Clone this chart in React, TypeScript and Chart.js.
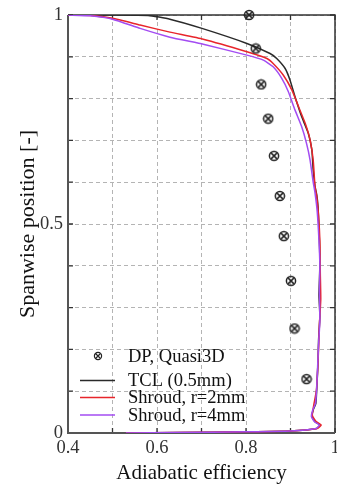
import React, { useEffect, useRef } from "react";
import { Chart, registerables } from "chart.js";

Chart.register(...registerables);

// DP, Quasi3D markers
const dpEff = [0.807, 0.822, 0.834, 0.85, 0.863, 0.876, 0.885, 0.901, 0.909, 0.936];
const dpSpan = [1.0, 0.92, 0.834, 0.752, 0.663, 0.567, 0.471, 0.364, 0.25, 0.129];

// TCL (0.5mm)
const tclEff = [0.4, 0.5, 0.58, 0.629, 0.701, 0.802, 0.854, 0.869, 0.888, 0.899, 0.91, 0.925, 0.94, 0.948, 0.951, 0.955, 0.959, 0.962, 0.965, 0.966, 0.964, 0.966, 0.963, 0.962, 0.96, 0.957, 0.951, 0.948, 0.955, 0.966, 0.959, 0.899, 0.8, 0.65, 0.53];
const tclSpan = [1.0, 1.0, 0.999, 0.99, 0.968, 0.932, 0.908, 0.896, 0.872, 0.844, 0.805, 0.757, 0.717, 0.677, 0.629, 0.59, 0.57, 0.54, 0.46, 0.4, 0.33, 0.28, 0.22, 0.175, 0.127, 0.071, 0.055, 0.039, 0.027, 0.019, 0.011, 0.005, 0.003, 0.001, 0.0];

// Shroud, r=2mm
const r2Eff = [0.4, 0.45, 0.5, 0.562, 0.629, 0.704, 0.802, 0.847, 0.861, 0.884, 0.903, 0.918, 0.933, 0.944, 0.951, 0.955, 0.959, 0.963, 0.966, 0.967, 0.968, 0.965, 0.963, 0.961, 0.958, 0.952, 0.949, 0.957, 0.969, 0.96, 0.899, 0.8, 0.65, 0.53];
const r2Span = [1.0, 0.999, 0.992, 0.976, 0.959, 0.942, 0.912, 0.896, 0.884, 0.856, 0.821, 0.781, 0.741, 0.701, 0.653, 0.59, 0.565, 0.52, 0.46, 0.38, 0.32, 0.26, 0.2, 0.15, 0.1, 0.065, 0.042, 0.028, 0.019, 0.011, 0.005, 0.003, 0.001, 0.0];

// Shroud, r=4mm
const r4Eff = [0.4, 0.45, 0.5, 0.562, 0.629, 0.704, 0.802, 0.839, 0.861, 0.88, 0.895, 0.91, 0.925, 0.936, 0.944, 0.951, 0.955, 0.96, 0.964, 0.966, 0.965, 0.966, 0.963, 0.961, 0.959, 0.956, 0.95, 0.947, 0.954, 0.965, 0.958, 0.899, 0.8, 0.65, 0.53];
const r4Span = [1.0, 0.998, 0.99, 0.968, 0.947, 0.93, 0.904, 0.892, 0.876, 0.849, 0.817, 0.773, 0.733, 0.693, 0.653, 0.6, 0.575, 0.53, 0.46, 0.4, 0.34, 0.27, 0.21, 0.16, 0.11, 0.07, 0.055, 0.039, 0.027, 0.019, 0.011, 0.005, 0.003, 0.001, 0.0];

const xLabels = [0.4, 0.6, 0.8, 1];
const yLabels = [0, 0.5, 1];

const SERIF = "'Liberation Serif', 'Times New Roman', serif";

function makeMarker(size: number, r: number, lw: number): HTMLCanvasElement {
  const c = document.createElement("canvas");
  c.width = size;
  c.height = size;
  const g = c.getContext("2d")!;
  const m = size / 2;
  g.strokeStyle = "#222";
  g.lineWidth = lw;
  g.beginPath();
  g.arc(m, m, r, 0, Math.PI * 2);
  g.stroke();
  const d = r * 0.62;
  g.beginPath();
  g.moveTo(m - d, m - d);
  g.lineTo(m + d, m + d);
  g.moveTo(m + d, m - d);
  g.lineTo(m - d, m + d);
  g.stroke();
  return c;
}

const pts = (xs: number[], ys: number[]) => xs.map((x, i) => ({ x, y: ys[i] }));
const near = (v: number, list: number[]) => list.some((l) => Math.abs(l - v) < 1e-6);

export default function App() {
  const ref = useRef<HTMLCanvasElement>(null);

  useEffect(() => {
    document.body.style.margin = "0";
    const marker = makeMarker(12, 4.6, 1.5);
    const legendMarker = makeMarker(10, 3.6, 1.2);

    const frame = {
      id: "frame",
      beforeDatasetsDraw(chart: any) {
        const { ctx, chartArea: a, scales } = chart;
        ctx.save();
        ctx.strokeStyle = "#333";
        ctx.lineWidth = 1.3;
        ctx.beginPath();
        scales.x.ticks.forEach((t: any) => {
          const px = scales.x.getPixelForValue(t.value);
          ctx.moveTo(px, a.bottom);
          ctx.lineTo(px, a.bottom - 5);
          ctx.moveTo(px, a.top);
          ctx.lineTo(px, a.top + 5);
        });
        scales.y.ticks.forEach((t: any) => {
          const py = scales.y.getPixelForValue(t.value);
          ctx.moveTo(a.left, py);
          ctx.lineTo(a.left + 5, py);
          ctx.moveTo(a.right, py);
          ctx.lineTo(a.right - 5, py);
        });
        ctx.stroke();
        ctx.lineWidth = 1.5;
        ctx.strokeStyle = "#333";
        ctx.beginPath();
        ctx.moveTo(a.left, a.top);
        ctx.lineTo(a.right, a.top);
        ctx.lineTo(a.right, a.bottom);
        ctx.stroke();
        ctx.lineWidth = 2;
        ctx.strokeStyle = "#555";
        ctx.beginPath();
        ctx.moveTo(a.left, a.top);
        ctx.lineTo(a.left, a.bottom);
        ctx.lineTo(a.right, a.bottom);
        ctx.stroke();
        ctx.restore();
      },
    };

    const legendRows = [356, 380.5, 397.5, 415];
    const innerLegend = {
      id: "innerLegend",
      afterDatasetsDraw(chart: any) {
        const { ctx } = chart;
        ctx.save();
        ctx.font = `18.5px ${SERIF}`;
        ctx.textBaseline = "middle";
        ctx.textAlign = "left";
        chart.data.datasets.forEach((ds: any, i: number) => {
          const y = legendRows[i];
          if (ds.showLine === false) {
            ctx.drawImage(legendMarker, 98 - legendMarker.width / 2, y - legendMarker.height / 2);
          } else {
            ctx.strokeStyle = ds.borderColor;
            ctx.lineWidth = 1.5;
            ctx.beginPath();
            ctx.moveTo(80, y);
            ctx.lineTo(115, y);
            ctx.stroke();
          }
          ctx.fillStyle = "#111";
          ctx.fillText(ds.label, 128, y + 1);
        });
        ctx.restore();
      },
    };

    const chart = new Chart(ref.current!, {
      type: "scatter",
      data: {
        datasets: [
          {
            label: "DP, Quasi3D",
            data: pts(dpEff, dpSpan),
            showLine: false,
            pointStyle: marker as any,
            pointRadius: 6,
            clip: false as any,
            order: 0,
          },
          {
            label: "TCL (0.5mm)",
            data: pts(tclEff, tclSpan),
            showLine: true,
            borderColor: "#2a2a2a",
            borderWidth: 1.5,
            pointRadius: 0,
            tension: 0.15,
            order: 3,
          },
          {
            label: "Shroud, r=2mm",
            data: pts(r2Eff, r2Span),
            showLine: true,
            borderColor: "#e8252b",
            borderWidth: 1.5,
            pointRadius: 0,
            tension: 0.15,
            order: 2,
          },
          {
            label: "Shroud, r=4mm",
            data: pts(r4Eff, r4Span),
            showLine: true,
            borderColor: "#a34cf2",
            borderWidth: 1.5,
            pointRadius: 0,
            tension: 0.15,
            order: 1,
          },
        ],
      },
      options: {
        animation: false,
        responsive: false,
        devicePixelRatio: 1,
        layout: { autoPadding: false, padding: { top: 15, right: 2, left: 0, bottom: 0 } },
        plugins: { legend: { display: false }, tooltip: { enabled: false } },
        scales: {
          x: {
            type: "linear",
            min: 0.4,
            max: 1,
            ticks: {
              stepSize: 0.1,
              padding: 4,
              color: "#333",
              font: { family: SERIF, size: 18.5 },
              maxRotation: 0,
              autoSkip: false,
              callback: (v: any) => (near(Number(v), xLabels) ? String(Number(Number(v).toFixed(1))) : ""),
            },
            grid: { color: "#b4b4b4", lineWidth: 1, drawTicks: false },
            border: { display: false, dash: [4, 3] },
            title: {
              display: true,
              text: "Adiabatic efficiency",
              color: "#111",
              font: { family: SERIF, size: 21 },
              padding: { top: 0, bottom: 1 },
            },
            afterFit: (s: any) => {
              s.height = 54;
              s.paddingLeft = 0;
              s.paddingRight = 0;
            },
          } as any,
          y: {
            type: "linear",
            min: 0,
            max: 1,
            ticks: {
              stepSize: 0.1,
              padding: 5,
              color: "#333",
              font: { family: SERIF, size: 18.5 },
              autoSkip: false,
              callback: (v: any) => (near(Number(v), yLabels) ? String(Number(Number(v).toFixed(1))) : ""),
            },
            grid: { color: "#b4b4b4", lineWidth: 1, drawTicks: false },
            border: { display: false, dash: [4, 3] },
            title: {
              display: true,
              text: "Spanwise position [-]",
              color: "#111",
              font: { family: SERIF, size: 22 },
              padding: { top: 15, bottom: 0 },
            },
            afterFit: (s: any) => {
              s.width = 68;
              s.paddingTop = 0;
              s.paddingBottom = 0;
            },
          } as any,
        },
      },
      plugins: [frame, innerLegend],
    });
    return () => chart.destroy();
  }, []);

  return (
    <div style={{ width: 337, height: 487 }}>
      <canvas ref={ref} width={337} height={487} style={{ display: "block", width: 337, height: 487 }} />
    </div>
  );
}
